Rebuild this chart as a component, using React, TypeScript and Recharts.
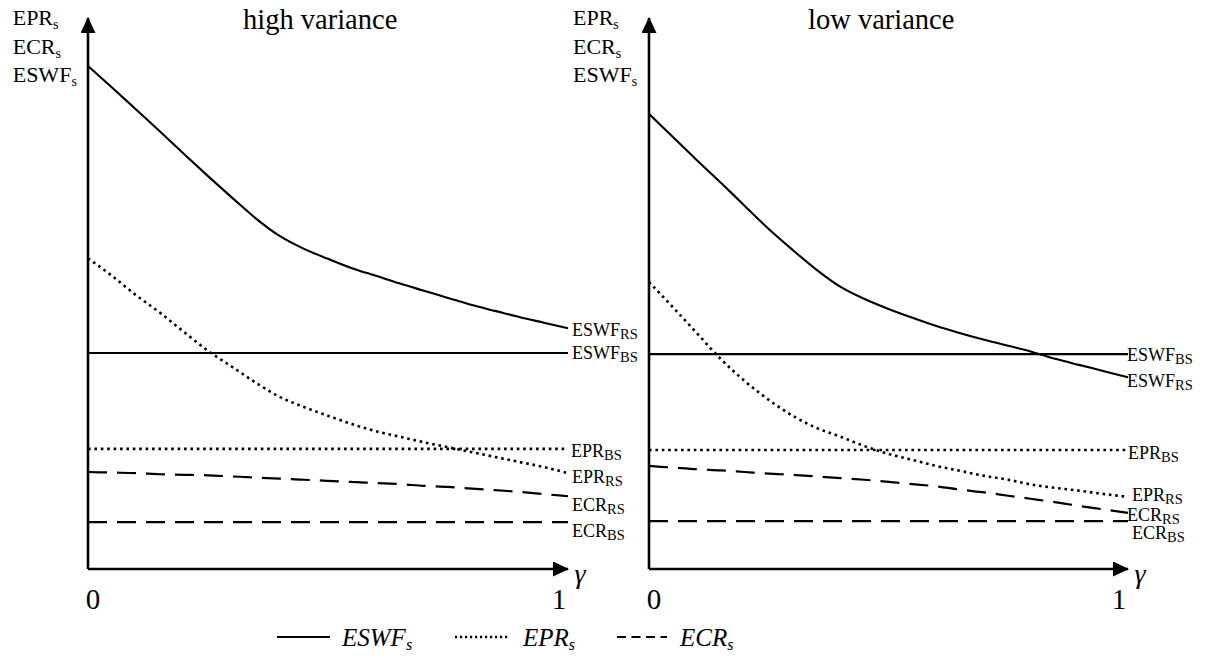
import React from 'react';
import { LineChart, Line, XAxis, YAxis } from 'recharts';

// ---------- data ----------
const gamma = [0, 0.05, 0.1, 0.15, 0.2, 0.25, 0.3, 0.35, 0.4, 0.45, 0.5, 0.55, 0.6, 0.65, 0.7, 0.75, 0.8, 0.85, 0.9, 0.95, 1];
const gammaEnds = [0, 1];
const xTicks = [0, 1];

// high variance panel
const highESWF_s = [91.3, 87.4, 83.4, 79.4, 75.3, 71.3, 67.4, 63.6, 60.4, 58.1, 56.3, 54.6, 53.2, 51.8, 50.5, 49.2, 47.9, 46.8, 45.7, 44.7, 43.7];
const highEPR_s = [56.4, 53.2, 49.7, 46.5, 43.0, 39.6, 36.7, 33.8, 31.2, 29.4, 27.8, 26.3, 25.0, 24.0, 23.0, 22.1, 21.2, 20.3, 19.4, 18.5, 17.4];
const highECR_s = [17.6, 17.5, 17.4, 17.2, 17.1, 17.0, 16.8, 16.6, 16.4, 16.2, 16.0, 15.8, 15.6, 15.4, 15.1, 14.9, 14.6, 14.3, 14.0, 13.6, 13.2];
const highESWF_BS = [39.2, 39.2];
const highEPR_BS = [21.8, 21.8];
const highECR_BS = [8.5, 8.5];

// low variance panel
const lowESWF_s = [82.6, 78.4, 74.2, 70.1, 65.9, 61.7, 57.9, 54.3, 51.2, 49.0, 47.2, 45.6, 44.1, 42.8, 41.6, 40.5, 39.4, 38.1, 37.0, 35.9, 34.8];
const lowEPR_s = [52.1, 47.5, 42.8, 38.1, 34.1, 30.7, 27.8, 25.6, 24.0, 22.3, 20.9, 19.8, 18.7, 17.8, 16.9, 16.2, 15.3, 14.7, 14.2, 13.6, 13.1];
const lowECR_s = [18.7, 18.4, 18.1, 17.9, 17.6, 17.3, 17.1, 16.8, 16.5, 16.2, 15.8, 15.4, 15.0, 14.4, 13.9, 13.3, 12.7, 12.1, 11.4, 10.8, 10.2];
const lowESWF_BS = [39.0, 39.0];
const lowEPR_BS = [21.6, 21.6];
const lowECR_BS = [8.7, 8.7];

// end-of-line labels (order: ESWF_s, ESWF_BS, EPR_BS, EPR_s, ECR_s, ECR_BS)
const endMain = ['ESWF', 'ESWF', 'EPR', 'EPR', 'ECR', 'ECR'];
const endSub = ['RS', 'BS', 'BS', 'RS', 'RS', 'BS'];

const titles = ['high variance', 'low variance'];
const yLabelMain = ['EPR', 'ECR', 'ESWF'];
const legendMain = ['ESWF', 'EPR', 'ECR'];

// ---------- styles ----------
const FONT = '"Liberation Serif", "Times New Roman", Times, serif';
const SOLID = { strokeWidth: 2.1 };
const DOTTED = { strokeWidth: 2.6, strokeDasharray: '2.6 3.8' };
const DASHED = { strokeWidth: 2.2, strokeDasharray: '19 10' };

const highNudge = [
  { dx: 4, dy: 8 },
  { dx: 4, dy: 6 },
  { dx: 3, dy: 8 },
  { dx: 4, dy: 10 },
  { dx: 4, dy: 15 },
  { dx: 4, dy: 15 },
];
const lowNudge = [
  { dx: -1, dy: 10 },
  { dx: -1, dy: 7 },
  { dx: 0, dy: 9 },
  { dx: 4, dy: 4 },
  { dx: -1, dy: 8 },
  { dx: 4, dy: 18 },
];

type Series = {
  eswf: number[]; epr: number[]; ecr: number[];
  eswfBS: number[]; eprBS: number[]; ecrBS: number[];
};

const toRows = (xs: number[], ys: number[]) => xs.map((g, i) => ({ g, v: ys[i] }));
const lastOf = (a: number[]) => a[a.length - 1];

const endValues = (s: Series) => [
  lastOf(s.eswf), lastOf(s.eswfBS), lastOf(s.eprBS), lastOf(s.epr), lastOf(s.ecr), lastOf(s.ecrBS),
];

const makeEndTick = (values: number[], nudge: { dx: number; dy: number }[]) => (props: any) => {
  const { x, y, payload } = props;
  let i = values.findIndex((v) => Math.abs(v - Number(payload.value)) < 1e-6);
  if (i < 0 && typeof payload.index === 'number') i = payload.index;
  if (i < 0 || i >= values.length) return <g />;
  const n = nudge[i];
  return (
    <text x={x + n.dx} y={y + n.dy} fontFamily={FONT} fontSize={18} fill="#000" textAnchor="start">
      <tspan>{endMain[i]}</tspan>
      <tspan fontSize={14.5} dy={3}>{endSub[i]}</tspan>
    </text>
  );
};

const xTick = (props: any) => {
  const { x, y, payload } = props;
  const isOne = payload.value === 1;
  return (
    <g>
      <text x={x + (isOne ? -9 : 5)} y={y + 40} textAnchor="middle" fontFamily={FONT} fontSize={29} fill="#000">
        {String(payload.value)}
      </text>
      {isOne ? (
        <text x={x + 12} y={y + 14} textAnchor="middle" fontFamily={FONT} fontStyle="italic" fontSize={28} fill="#000">
          γ
        </text>
      ) : null}
    </g>
  );
};

const Panel = ({ series, nudge, left, width, marginRight }: { series: Series; nudge: any[]; left: number; width: number; marginRight: number }) => {
  const ev = endValues(series);
  const common = { type: 'monotone' as const, dataKey: 'v', stroke: '#000', dot: false, activeDot: false, isAnimationActive: false };
  return (
    <div style={{ position: 'absolute', left, top: 0 }}>
      <LineChart width={width} height={640} margin={{ top: 18, right: marginRight - 1, bottom: 70, left: 87 }}>
        <XAxis
          dataKey="g"
          type="number"
          domain={[0, 1]}
          ticks={xTicks}
          allowDuplicatedCategory={false}
          height={1}
          tickSize={0}
          tickMargin={0}
          tickLine={false}
          interval={0}
          axisLine={{ stroke: '#000', strokeWidth: 2.6, markerEnd: 'url(#axisArrow)' }}
          tick={xTick}
        />
        <YAxis
          yAxisId="v"
          type="number"
          domain={[0, 100]}
          allowDataOverflow
          width={1}
          tick={false}
          tickLine={false}
          axisLine={{ stroke: '#000', strokeWidth: 2.6, markerStart: 'url(#axisArrow)' }}
        />
        <YAxis
          yAxisId="lab"
          orientation="right"
          type="number"
          domain={[0, 100]}
          allowDataOverflow
          width={1}
          ticks={ev}
          interval={0}
          minTickGap={0}
          tickSize={0}
          tickMargin={0}
          tickLine={false}
          axisLine={false}
          tick={makeEndTick(ev, nudge)}
        />
        <Line {...common} yAxisId="lab" data={toRows(gammaEnds, series.eswfBS)} {...SOLID} />
        <Line {...common} yAxisId="lab" data={toRows(gammaEnds, series.eprBS)} {...DOTTED} />
        <Line {...common} yAxisId="lab" data={toRows(gammaEnds, series.ecrBS)} {...DASHED} />
        <Line {...common} yAxisId="v" data={toRows(gamma, series.eswf)} {...SOLID} />
        <Line {...common} yAxisId="v" data={toRows(gamma, series.epr)} {...DOTTED} />
        <Line {...common} yAxisId="v" data={toRows(gamma, series.ecr)} {...DASHED} />
      </LineChart>
    </div>
  );
};

const highSeries: Series = {
  eswf: highESWF_s, epr: highEPR_s, ecr: highECR_s,
  eswfBS: highESWF_BS, eprBS: highEPR_BS, ecrBS: highECR_BS,
};
const lowSeries: Series = {
  eswf: lowESWF_s, epr: lowEPR_s, ecr: lowECR_s,
  eswfBS: lowESWF_BS, eprBS: lowEPR_BS, ecrBS: lowECR_BS,
};

const YLabels = ({ x }: { x: number }) => (
  <g>
    {yLabelMain.map((t, i) => (
      <text key={t} x={x} y={25 + i * 28.5} fontFamily={FONT} fontSize={22} fill="#000">
        <tspan>{t}</tspan>
        <tspan fontSize={14} dy={4}>s</tspan>
      </text>
    ))}
  </g>
);

const legendX = [
  { lx1: 277, lx2: 330, tx: 342 },
  { lx1: 455, lx2: 508, tx: 523 },
  { lx1: 617, lx2: 667, tx: 680 },
];
const legendStyles = [
  { strokeWidth: 2 },
  { strokeWidth: 2.6, strokeDasharray: '2.2 2.8' },
  { strokeWidth: 2.2, strokeDasharray: '9 5.5' },
];

const Overlay = () => (
  <svg width={1216} height={659} style={{ position: 'absolute', left: 0, top: 0, pointerEvents: 'none' }}>
    <defs>
      <marker
        id="axisArrow"
        viewBox="0 0 16 15"
        markerWidth={16}
        markerHeight={15}
        refX={15}
        refY={7.5}
        markerUnits="userSpaceOnUse"
        orient="auto-start-reverse"
      >
        <path d="M0,0 L16,7.5 L0,15 z" fill="#000" />
      </marker>
    </defs>
    <text x={243} y={29} fontFamily={FONT} fontSize={28.5} fill="#000">{titles[0]}</text>
    <text x={808} y={29} fontFamily={FONT} fontSize={28.5} fill="#000">{titles[1]}</text>
    <YLabels x={12.7} />
    <YLabels x={573} />
    {legendMain.map((t, i) => (
      <g key={t}>
        <line x1={legendX[i].lx1} x2={legendX[i].lx2} y1={637} y2={637} stroke="#000" {...legendStyles[i]} />
        <text x={legendX[i].tx} y={646} fontFamily={FONT} fontStyle="italic" fontSize={25} fill="#000">
          <tspan>{t}</tspan>
          <tspan fontSize={16} dy={4}>s</tspan>
        </text>
      </g>
    ))}
  </svg>
);

export default function App() {
  return (
    <div style={{ position: 'absolute', left: 0, top: 0, width: 1216, height: 659, background: '#fff', overflow: 'hidden' }}>
      <Panel series={highSeries} nudge={highNudge} left={0} width={650} marginRight={82} />
      <Panel series={lowSeries} nudge={lowNudge} left={561} width={655} marginRight={88} />
      <Overlay />
    </div>
  );
}
